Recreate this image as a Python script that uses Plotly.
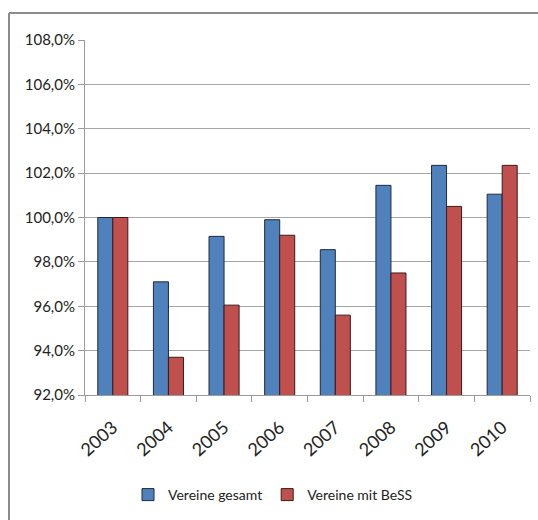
import plotly.graph_objects as go

# Daten (Index 2003 = 100 %)
jahre = ["2003", "2004", "2005", "2006", "2007", "2008", "2009", "2010"]
vereine_gesamt = [100.0, 97.1, 99.15, 99.9, 98.55, 101.45, 102.35, 101.05]
vereine_bess = [100.0, 93.7, 96.05, 99.2, 95.6, 97.5, 100.5, 102.35]
y_ticks = [92, 94, 96, 98, 100, 102, 104, 106, 108]
y_labels = [f"{v:.1f}".replace(".", ",") + "%" for v in y_ticks]

FONT = "Lato, Open Sans, sans-serif"

fig = go.Figure()
fig.add_trace(go.Bar(x=jahre, y=vereine_gesamt, name="Vereine gesamt",
                     marker=dict(color="#4f81bd", line=dict(color="#1f2a38", width=1))))
fig.add_trace(go.Bar(x=jahre, y=vereine_bess, name="Vereine mit BeSS",
                     marker=dict(color="#c0504d", line=dict(color="#3a1a19", width=1))))

L, T, W, H = 85, 40, 445, 355
px = lambda v: (v - L) / W
py = lambda v: 1 - (v - T) / H

# Rahmen (links und oben, Rest abgeschnitten)
fig.add_shape(type="line", xref="paper", yref="paper", x0=px(9), x1=px(538), y0=py(13), y1=py(13),
              line=dict(color="#8c8c8c", width=2))
fig.add_shape(type="line", xref="paper", yref="paper", x0=px(9), x1=px(9), y0=py(13), y1=py(520),
              line=dict(color="#8c8c8c", width=2))

fig.update_layout(
    width=538, height=520,
    margin=dict(l=L, r=538 - L - W, t=T, b=520 - T - H, autoexpand=False),
    paper_bgcolor="white", plot_bgcolor="white",
    barmode="group", bargap=0.46, bargroupgap=0,
    font=dict(family=FONT, size=15, color="#222"),
    showlegend=True,
    legend=dict(orientation="h", x=px(273), xanchor="center", y=py(495), yanchor="middle",
                font=dict(size=14), itemwidth=30, tracegroupgap=0),
    xaxis=dict(showgrid=False, showline=True, linecolor="#9a9a9a", linewidth=1,
               ticks="outside", tickson="boundaries", ticklen=6, tickcolor="#9a9a9a",
               tickangle=-42, tickfont=dict(size=18), ticklabelstandoff=14),
    yaxis=dict(range=[92, 108], tickvals=y_ticks, ticktext=y_labels,
               showgrid=True, gridcolor="#a6a6a6", gridwidth=1,
               showline=True, linecolor="#9a9a9a", linewidth=1,
               ticks="outside", ticklen=6, tickcolor="#9a9a9a", tickfont=dict(size=15)),
)

# Body-Rand und Scrollbalken der Seite entfernen, damit die Abbildung bei (0,0) beginnt
fig.write_html(
    "out.html",
    config={"displayModeBar": False},
    post_script="document.body.style.margin='0';document.documentElement.style.overflow='hidden';",
)
